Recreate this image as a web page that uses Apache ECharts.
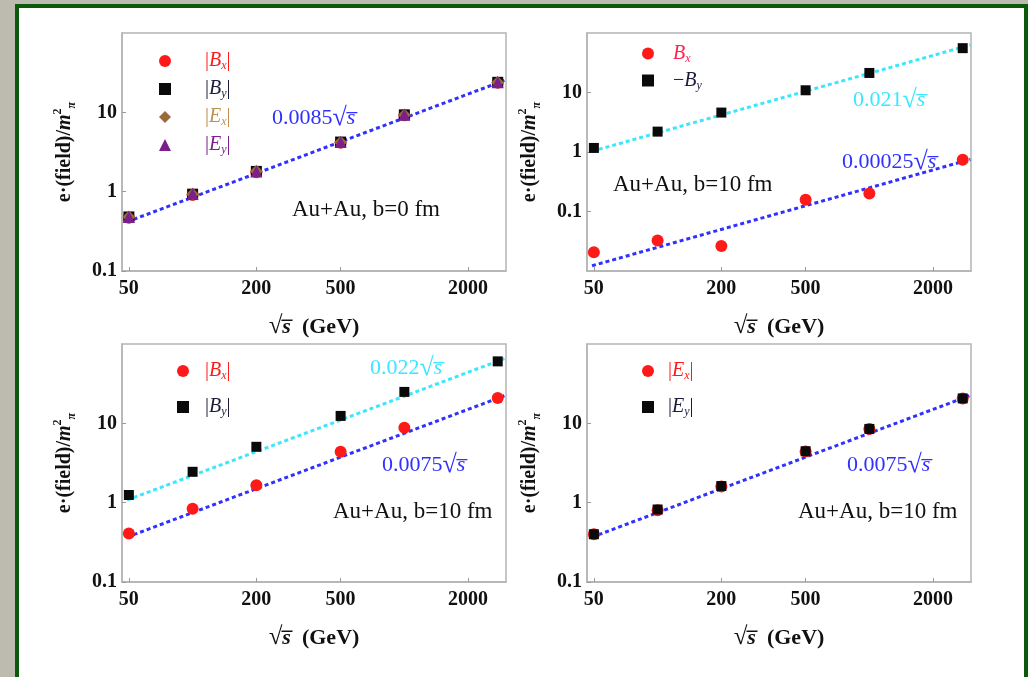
<!DOCTYPE html>
<html>
<head>
<meta charset="utf-8">
<script src="https://cdn.jsdelivr.net/npm/echarts@6/dist/echarts.min.js"></script>
<style>
  html, body { margin: 0; padding: 0; background: #bdbaaf; overflow: hidden; }
  #frame { position: absolute; left: 15px; top: 4px; width: 1005px; height: 700px;
           background: #ffffff; border: 4px solid #0b5a0b; border-bottom: none; }
  #chart { position: absolute; left: 0; top: 0; width: 1028px; height: 677px; }
</style>
</head>
<body>
<div id="frame"></div>
<div id="chart"></div>
<script>
// Collision energies √s (GeV) and axis tick values
const sqrtS = [50, 100, 200, 500, 1000, 2760];
const xTicks = [50, 200, 500, 2000];
const yTicks = [0.1, 1, 10];

// Au+Au, b = 0 fm : field magnitudes
const b0Bx = [0.47, 0.91, 1.76, 4.15, 9.2, 23.6];
const b0By = [0.48, 0.93, 1.80, 4.22, 9.3, 23.9];
const b0Ex = [0.48, 0.93, 1.81, 4.20, 9.25, 23.8];
const b0Ey = [0.48, 0.94, 1.80, 4.22, 9.3, 23.9];
const b0Coef = 0.0085;

// Au+Au, b = 10 fm : signed components
const b10Bx = [0.0207, 0.0325, 0.0264, 0.158, 0.20, 0.74];
const b10NegBy = [1.17, 2.2, 4.6, 10.9, 21.3, 55.6];
const b10BxCoef = 0.00025;
const b10NegByCoef = 0.021;

// Au+Au, b = 10 fm : magnetic field magnitudes
const b10AbsBx = [0.41, 0.84, 1.66, 4.38, 8.77, 20.9];
const b10AbsBy = [1.25, 2.45, 5.06, 12.4, 24.9, 60.4];
const b10AbsBxCoef = 0.0075;
const b10AbsByCoef = 0.022;

// Au+Au, b = 10 fm : electric field magnitudes
const b10AbsEx = [0.40, 0.80, 1.60, 4.40, 8.5, 20.5];
const b10AbsEy = [0.40, 0.82, 1.62, 4.45, 8.5, 20.6];
const b10AbsECoef = 0.0075;

// √s span covered by the fitted lines
const fitSpan = [49, 3000];

const SERIF = '"Liberation Serif", "DejaVu Serif", "Times New Roman", serif';
const RED = '#ff1a1a', BLACK = '#0a0a0a', BROWN = '#9a6b3a', PURPLE = '#7a1f8c';
const BLUE = '#3030ff', CYAN = '#3ce6ff';

const pairs = (ys) => sqrtS.map((x, i) => [x, ys[i]]);
const fitLine = (c) => fitSpan.map(x => [x, c * x]);

const grids = [
  { left: 122, top: 33, width: 384, height: 238 },
  { left: 587, top: 33, width: 384, height: 238 },
  { left: 122, top: 344, width: 384, height: 238 },
  { left: 587, top: 344, width: 384, height: 238 }
];
const yRanges = [[0.1, 100], [0.01, 100], [0.1, 100], [0.1, 100]];

const tickStyle = { show: true, inside: true, length: 4, lineStyle: { color: '#999', width: 1 } };

const xAxes = grids.map((g, i) => ({
  type: 'log', gridIndex: i, min: 46.4, max: 3020,
  axisLine: { show: true, lineStyle: { color: '#b4b4b4', width: 1.5 } },
  axisTick: Object.assign({ customValues: xTicks }, tickStyle),
  splitLine: { show: false },
  axisLabel: { customValues: xTicks, margin: 8, color: '#111', fontFamily: SERIF, fontWeight: 'bold', fontSize: 20,
    formatter: (v) => String(Math.round(v)) },
  name: '{r|√}{i|s\u0305}  (GeV)', nameLocation: 'middle', nameGap: 43,
  nameTextStyle: { color: '#111', fontFamily: SERIF, fontWeight: 'bold', fontSize: 22, lineHeight: 26,
    rich: {
      r: { fontFamily: SERIF, fontWeight: 'bold', fontSize: 25, lineHeight: 26 },
      i: { fontFamily: SERIF, fontStyle: 'italic', fontWeight: 'bold', fontSize: 22, lineHeight: 26 }
    } }
}));

const yAxes = grids.map((g, i) => ({
  type: 'log', gridIndex: i, min: yRanges[i][0], max: yRanges[i][1],
  axisLine: { show: true, lineStyle: { color: '#b4b4b4', width: 1.5 } },
  axisTick: Object.assign({ customValues: yTicks }, tickStyle),
  splitLine: { show: false },
  axisLabel: { customValues: yTicks, margin: 5, color: '#111', fontFamily: SERIF, fontWeight: 'bold', fontSize: 20 },
  name: 'e·(field)/{i|m}{sup|2}{sub|π}', nameLocation: 'middle', nameGap: 44,
  nameTextStyle: { color: '#111', fontFamily: SERIF, fontWeight: 'bold', fontSize: 20, lineHeight: 26,
    rich: {
      i: { fontFamily: SERIF, fontStyle: 'italic', fontWeight: 'bold', fontSize: 20, lineHeight: 26 },
      sup: { fontFamily: SERIF, fontWeight: 'bold', fontSize: 12, lineHeight: 12, verticalAlign: 'top' },
      sub: { fontFamily: SERIF, fontStyle: 'italic', fontWeight: 'bold', fontSize: 12, lineHeight: 12, verticalAlign: 'bottom' }
    } }
}));

function points(name, idx, ys, symbol, size, color, z) {
  return { type: 'scatter', name, xAxisIndex: idx, yAxisIndex: idx, data: pairs(ys),
    symbol, symbolSize: size, itemStyle: { color, opacity: 1 }, z: z || 3, silent: true };
}
function fit(idx, coef, color) {
  return { type: 'line', xAxisIndex: idx, yAxisIndex: idx, data: fitLine(coef), symbol: 'none',
    lineStyle: { color, width: 3, type: [4, 3], cap: 'butt' }, z: 2, silent: true, clip: true };
}

const series = [
  fit(0, b0Coef, BLUE),
  points('|Bx|', 0, b0Bx, 'circle', 12, RED, 3),
  points('|By|', 0, b0By, 'rect', 11, BLACK, 4),
  points('|Ex|', 0, b0Ex, 'diamond', 13, BROWN, 5),
  points('|Ey|', 0, b0Ey, 'triangle', 12, PURPLE, 6),

  fit(1, b10NegByCoef, CYAN),
  fit(1, b10BxCoef, BLUE),
  points('Bx', 1, b10Bx, 'circle', 12, RED, 3),
  points('-By', 1, b10NegBy, 'rect', 10, BLACK, 4),

  fit(2, b10AbsByCoef, CYAN),
  fit(2, b10AbsBxCoef, BLUE),
  points('|Bx|', 2, b10AbsBx, 'circle', 12, RED, 3),
  points('|By|', 2, b10AbsBy, 'rect', 10, BLACK, 4),

  fit(3, b10AbsECoef, BLUE),
  points('|Ex| ', 3, b10AbsEx, 'circle', 12, RED, 3),
  points('|Ey| ', 3, b10AbsEy, 'rect', 10, BLACK, 4)
];

const legendText = {
  '|Bx|': '|{i|B}{sub|x}|', '|By|': '|{i|B}{sub|y}|',
  '|Ex|': '|{i|E}{sub|x}|', '|Ey|': '|{i|E}{sub|y}|',
  '|Ex| ': '|{i|E}{sub|x}|', '|Ey| ': '|{i|E}{sub|y}|',
  'Bx': '{i|B}{sub|x}', '-By': '−{i|B}{sub|y}'
};
// markerX: centre of the legend symbol, textX: where the label starts
function legend(markerX, top, lineH, textX, items) {
  const left = markerX - 6;
  const spacer = Math.max(0, textX - (left + 17));
  return {
    left, top, orient: 'vertical', itemGap: 0, itemWidth: 12, itemHeight: 12,
    selectedMode: false, padding: 0,
    data: items.map(([name, color]) => ({ name, textStyle: { color } })),
    formatter: (n) => '{g| }' + legendText[n],
    textStyle: { fontFamily: SERIF, fontSize: 20, lineHeight: lineH,
      rich: {
        g: { width: spacer, fontSize: 20, lineHeight: lineH },
        i: { fontFamily: SERIF, fontStyle: 'italic', fontSize: 20, lineHeight: lineH },
        sub: { fontFamily: SERIF, fontStyle: 'italic', fontSize: 12, lineHeight: 12,
               verticalAlign: 'middle', padding: [10, 0, 0, 0] }
      } }
  };
}

const legends = [
  legend(165, 47, 28, 205, [['|Bx|', RED], ['|By|', '#1b1b3a'], ['|Ex|', '#c09050'], ['|Ey|', PURPLE]]),
  legend(648, 40, 27, 673, [['Bx', '#ff2050'], ['-By', '#1b1b3a']]),
  legend(183, 353, 36, 205, [['|Bx|', RED], ['|By|', '#1b1b3a']]),
  legend(648, 353, 36, 668, [['|Ex| ', RED], ['|Ey| ', '#1b1b3a']])
];

function note(x, y, text, color, size) {
  return { type: 'text', left: x, top: y - 14, silent: true,
    style: { text, fill: color, font: `${size}px ${SERIF}`, lineHeight: 28,
      rich: {
        r: { fontFamily: SERIF, fontSize: size + 4, fill: color, lineHeight: 28 },
        i: { fontFamily: SERIF, fontStyle: 'italic', fontSize: size, fill: color, lineHeight: 28 }
      } } };
}
const notes = [
  note(272, 118, '0.0085{r|√}{i|s\u0305}', BLUE, 22),
  note(292, 210, 'Au+Au, b=0 fm', '#111', 23),
  note(853, 100, '0.021{r|√}{i|s\u0305}', CYAN, 22),
  note(842, 162, '0.00025{r|√}{i|s\u0305}', BLUE, 22),
  note(613, 185, 'Au+Au, b=10 fm', '#111', 23),
  note(370, 368, '0.022{r|√}{i|s\u0305}', CYAN, 22),
  note(382, 465, '0.0075{r|√}{i|s\u0305}', BLUE, 22),
  note(333, 512, 'Au+Au, b=10 fm', '#111', 23),
  note(847, 465, '0.0075{r|√}{i|s\u0305}', BLUE, 22),
  note(798, 512, 'Au+Au, b=10 fm', '#111', 23)
];

const chart = echarts.init(document.getElementById('chart'), null, { renderer: 'canvas' });
chart.setOption({
  animation: false,
  backgroundColor: 'transparent',
  grid: grids.map(g => Object.assign({ show: true, borderColor: '#b4b4b4', borderWidth: 1.5,
    backgroundColor: 'transparent', containLabel: false, outerBoundsMode: 'none' }, g)),
  xAxis: xAxes,
  yAxis: yAxes,
  legend: legends,
  series,
  graphic: notes
});
</script>
</body>
</html>
